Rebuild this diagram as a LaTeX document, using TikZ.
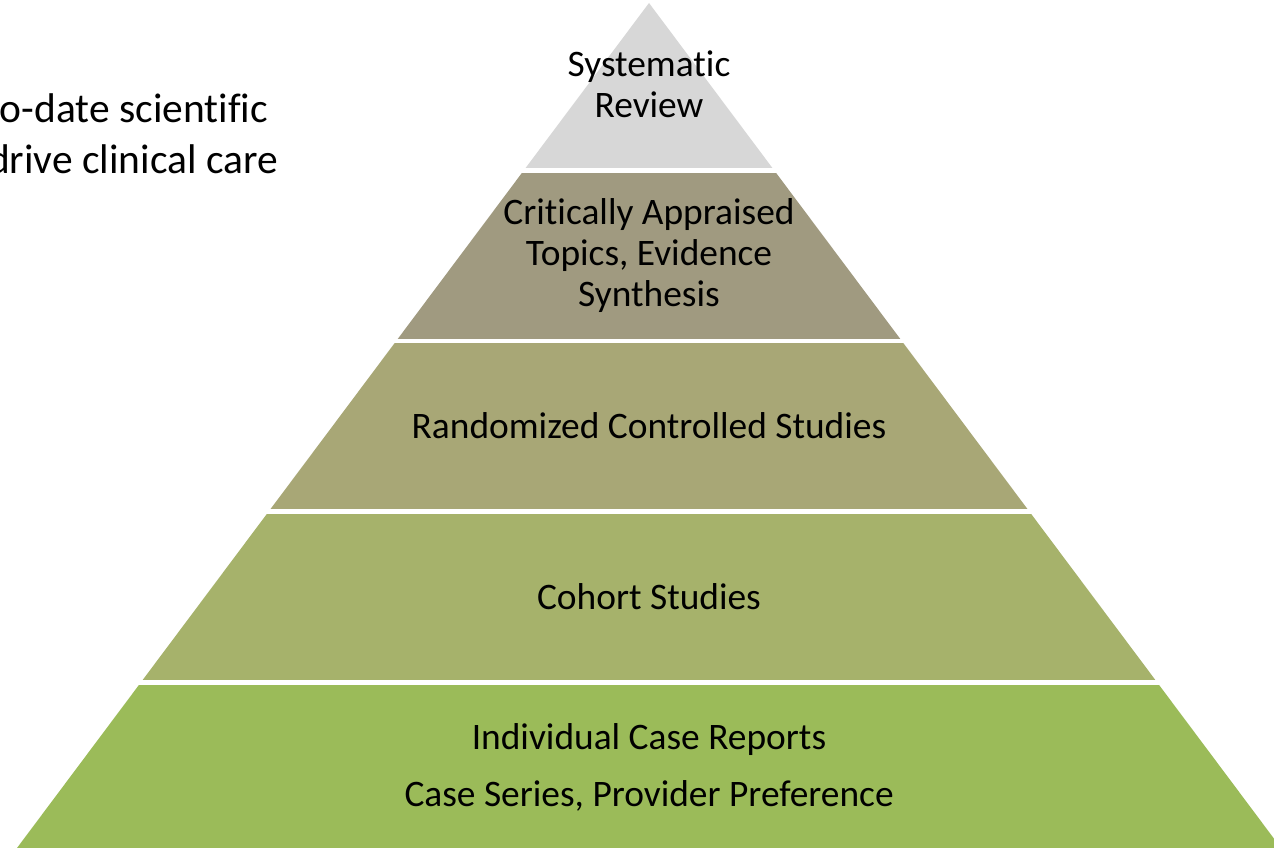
\documentclass[tikz,border=0pt]{standalone}
\usepackage{fontspec}
\setmainfont{Carlito}[Ligatures=CommonOff]
\begin{document}
\begin{tikzpicture}[x=1pt,y=-1pt,
  lbl/.style={font=\fontsize{37.4}{41}\selectfont, text=black, align=center, inner sep=0pt},
  side/.style={font=\fontsize{41.5}{50}\selectfont, text=black, inner sep=0pt}]
\useasboundingbox (0,0) rectangle (1274,848);
\clip (0,0) rectangle (1274,848);
\definecolor{cA}{HTML}{D7D7D7}
\definecolor{cB}{HTML}{A09A80}
\definecolor{cC}{HTML}{A8A776}
\definecolor{cD}{HTML}{A6B26B}
\definecolor{cE}{HTML}{9BBB59}
\fill[white] (0,0) rectangle (1274,848);
\coordinate (apex) at (649,3);
\coordinate (bl) at (17,848);
\coordinate (br) at (1281,848);
\foreach \ya/\yb/\c in {0/167/cA, 173/338/cB, 343.5/508.5/cC, 514/679.5/cD, 685/850/cE}{
  \begin{scope}
    \clip (0,\ya) rectangle (1274,\yb);
    \fill[\c] (apex) -- (bl) -- (br) -- cycle;
  \end{scope}
}
\node[lbl] (l1) at (649,84) {Systematic\\Review};
\node[lbl] (l2) at (649,256) {Critically Appraised\\Topics, Evidence\\Synthesis};
\node[lbl] (l3) at (649,426) {Randomized Controlled Studies};
\node[lbl] (l4) at (649,597) {Cohort Studies};
\node[lbl] (l5a) at (649,740) {Individual Case Reports};
\node[lbl] (l5b) at (649,796) {Case Series, Provider Preference};
\node[side, anchor=base east] (t1) at (268,123) {o-date scientific};
\node[side, anchor=base east] (t2) at (278,173) {drive clinical care};
\end{tikzpicture}
\end{document}
